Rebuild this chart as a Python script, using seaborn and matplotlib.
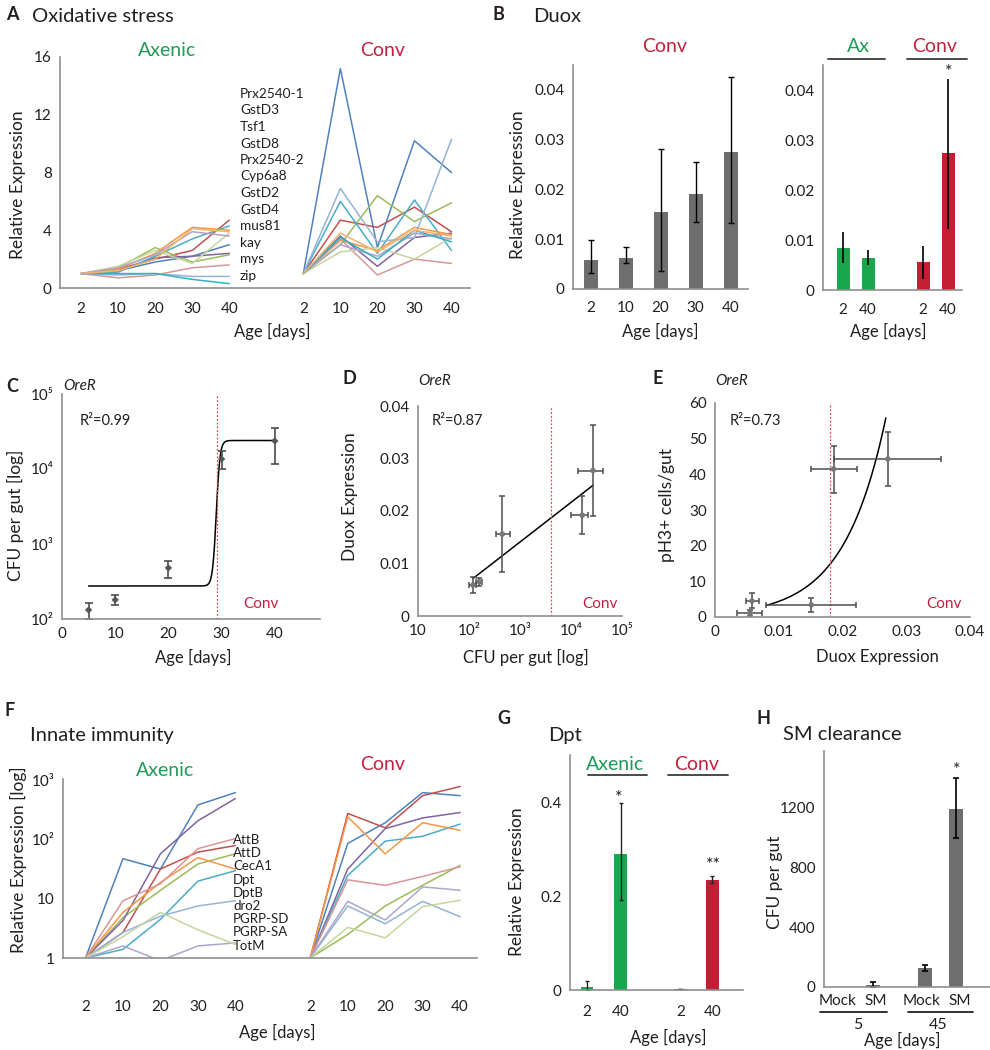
import numpy as np
import pandas as pd
import matplotlib
matplotlib.use("Agg")
import matplotlib.pyplot as plt
from matplotlib.lines import Line2D
from matplotlib.ticker import FixedLocator, NullLocator
import seaborn as sns

# ---------------- data ----------------
ages = [2, 10, 20, 30, 40]
age_labels = ["2", "10", "20", "30", "40"]

ox_genes = ["Prx2540-1", "GstD3", "Tsf1", "GstD8", "Prx2540-2", "Cyp6a8",
            "GstD2", "GstD4", "mus81", "kay", "mys", "zip"]
ox_axenic = [
    [1, 1.2, 1.8, 2.2, 3.0],
    [1, 1.3, 2.0, 2.6, 4.7],
    [1, 1.4, 2.8, 1.8, 2.3],
    [1, 1.2, 2.1, 2.2, 2.4],
    [1, 1.1, 2.2, 3.4, 4.3],
    [1, 1.3, 2.4, 4.2, 4.0],
    [1, 0.9, 1.0, 0.8, 0.8],
    [1, 0.7, 0.9, 1.4, 1.6],
    [1, 1.5, 2.6, 1.7, 3.8],
    [1, 1.4, 2.3, 3.9, 3.6],
    [1, 1.0, 1.0, 0.6, 0.3],
    [1, 1.2, 2.0, 4.1, 3.9],
]
ox_conv = [
    [1, 15.2, 2.8, 10.2, 8.0],
    [1, 4.7, 4.2, 5.6, 3.9],
    [1, 3.0, 6.4, 4.6, 5.9],
    [1, 3.6, 1.5, 3.5, 3.8],
    [1, 6.0, 2.4, 6.1, 2.6],
    [1, 3.3, 2.6, 4.2, 3.7],
    [1, 6.9, 3.2, 3.5, 10.3],
    [1, 3.4, 0.9, 2.0, 1.7],
    [1, 2.5, 2.8, 2.0, 3.5],
    [1, 3.0, 2.2, 3.8, 3.4],
    [1, 3.5, 2.0, 4.0, 3.2],
    [1, 3.8, 2.5, 4.0, 3.6],
]

duox_ages = ["2", "10", "20", "30", "40"]
duox_conv = [0.0059, 0.0062, 0.0155, 0.0191, 0.0275]
duox_conv_lo = [0.0033, 0.0052, 0.0037, 0.0134, 0.0132]
duox_conv_hi = [0.0098, 0.0084, 0.0282, 0.0256, 0.0425]

duox_cmp_groups = ["Ax", "Ax", "Conv", "Conv"]
duox_cmp_ages = ["2", "40", "2", "40"]
duox_cmp = [0.0085, 0.0065, 0.0057, 0.0274]
duox_cmp_lo = [0.0055, 0.0050, 0.0023, 0.0122]
duox_cmp_hi = [0.0116, 0.0080, 0.0088, 0.0423]

c_age = [5, 10, 20, 30, 40]
c_cfu = [132, 180, 480, 13600, 23700]
c_cfu_lo = [100, 155, 350, 10000, 11600]
c_cfu_hi = [165, 209, 595, 17400, 35000]
c_fit_low_log, c_fit_high_log, c_fit_mid, c_fit_scale = 2.44, 4.38, 29.0, 0.35
c_threshold = 29.2
c_r2 = "R²=0.99"

d_cfu = [120, 160, 450, 16600, 27000]
d_cfu_lo = [100, 140, 340, 10000, 13800]
d_cfu_hi = [140, 180, 630, 21400, 42700]
d_duox = [0.0059, 0.0065, 0.0156, 0.0192, 0.0277]
d_duox_lo = [0.0043, 0.0057, 0.0084, 0.0156, 0.0190]
d_duox_hi = [0.0075, 0.0072, 0.0229, 0.0229, 0.0364]
d_threshold = 4000
d_r2 = "R²=0.87"

e_duox = [0.0055, 0.0058, 0.0151, 0.0186, 0.0271]
e_duox_lo = [0.0035, 0.0049, 0.0080, 0.0151, 0.0186]
e_duox_hi = [0.0074, 0.0069, 0.0221, 0.0223, 0.0355]
e_ph3 = [1.1, 4.5, 3.4, 41.5, 44.3]
e_ph3_lo = [0.2, 2.5, 1.5, 34.7, 36.7]
e_ph3_hi = [2.0, 6.7, 5.3, 47.9, 51.8]
e_fit_a, e_fit_k, e_fit_x0, e_fit_x1 = 0.96, 151.6, 0.008, 0.0268
e_threshold = 0.0181
e_r2 = "R²=0.73"

imm_labels = ["AttB", "AttD", "CecA1", "Dpt", "DptB", "dro2", "PGRP-SD", "PGRP-SA", "TotM"]
imm_series = ["AttB", "AttD", "CecA1", "Dpt", "DptB", "dro2", "PGRP-SD", "PGRP-SA", "TotM", "other"]
imm_axenic = [
    [1, 48, 32, 390, 630],
    [1, 2.7, 32, 62, 80],
    [1, 4.8, 14, 39, 58],
    [1, 4.3, 58, 210, 500],
    [1, 1.4, 4.5, 20, 30],
    [1, 5.9, 19, 50, 32],
    [1, 2.7, 5.1, 7.6, 9.3],
    [1, 9.3, 18, 71, 105],
    [1, 1.6, 0.9, 1.6, 1.8],
    [1, 2.3, 5.9, 3.0, 1.7],
]
imm_conv = [
    [1, 87, 195, 630, 560],
    [1, 280, 160, 560, 800],
    [1, 2.5, 7.6, 17, 37],
    [1, 32, 155, 235, 290],
    [1, 25, 95, 115, 185],
    [1, 245, 58, 195, 145],
    [1, 7.6, 3.8, 9.1, 5.0],
    [1, 21, 17, 24, 35],
    [1, 9.1, 4.4, 16, 14],
    [1, 3.3, 2.2, 7.4, 9.5],
]

dpt_groups = ["Axenic", "Axenic", "Conv", "Conv"]
dpt_ages = ["2", "40", "2", "40"]
dpt_vals = [0.007, 0.29, 0.002, 0.234]
dpt_lo = [0.0, 0.191, 0.002, 0.227]
dpt_hi = [0.019, 0.398, 0.002, 0.243]

sm_treat = ["Mock", "SM", "Mock", "SM"]
sm_age = ["5", "45"]
sm_vals = [0, 16, 127, 1193]
sm_lo = [0, 2, 110, 1000]
sm_hi = [0, 31, 145, 1400]

# ---------------- style ----------------
sns.set_theme(style="white")
plt.rcParams["font.family"] = ["Lato", "DejaVu Sans"]
FAM = ["Lato", "DejaVu Sans"]

W, H = 990, 1050
SPINE = "#8f8f8f"
TXT = "#231f20"
GREEN_T = "#1f9a58"
RED_T = "#c2203f"
BAR_GREEN = "#1aa64c"
BAR_RED = "#c41e34"
BAR_GRAY = "#6e6e6e"
ERR_GRAY = "#4d4d4d"
DOT_RED = "#e0454f"
TICK_FS = 11

ox_colors = ["#4F81BD", "#C0504D", "#9BBB59", "#8064A2", "#4BACC6", "#F79646",
             "#95B3D7", "#D99694", "#C3D69B", "#B3A2C7", "#31B0C8", "#F2B36B"]
imm_colors = ["#4F81BD", "#C0504D", "#9BBB59", "#8064A2", "#4BACC6", "#F79646",
              "#95B3D7", "#D99694", "#ABA7CB", "#C3D69B"]

fig = plt.figure(figsize=(9.9, 10.5), dpi=100)


def add_ax(l, t, r, b):
    ax = fig.add_axes([l / W, 1 - b / H, (r - l) / W, (b - t) / H])
    for s in ["top", "right"]:
        ax.spines[s].set_visible(False)
    for s in ["left", "bottom"]:
        ax.spines[s].set_color(SPINE)
        ax.spines[s].set_linewidth(1.2)
    ax.tick_params(which="both", colors=SPINE, labelcolor=TXT, labelsize=TICK_FS,
                   direction="out", width=1)
    ax.tick_params(which="major", length=3, pad=3)
    ax.tick_params(which="minor", length=2.5)
    ax.set_facecolor("none")
    return ax


def txt(x, y, s, **kw):
    kw.setdefault("va", "center")
    kw.setdefault("color", TXT)
    kw.setdefault("family", FAM)
    fig.text(x / W, 1 - y / H, s, **kw)


def hline(x1, x2, y, color="#3a3a3a", lw=1.3):
    fig.add_artist(Line2D([x1 / W, x2 / W], [1 - y / H, 1 - y / H], color=color, lw=lw))


def cat_ticks(ax, positions, labels, minor, pad):
    ax.xaxis.set_major_locator(FixedLocator(positions))
    ax.set_xticklabels(labels)
    ax.xaxis.set_minor_locator(FixedLocator(minor))
    ax.tick_params(axis="x", which="major", length=0, pad=pad)


def long_lines(series, colors, a_vals, c_vals, offset=6):
    rows = []
    for gi, g in enumerate(series):
        for grp, vals, off in (("Axenic", a_vals[gi], 0), ("Conv", c_vals[gi], offset)):
            for j, v in enumerate(vals):
                rows.append(dict(gene=g, group=grp, pos=j + off, value=v))
    return pd.DataFrame(rows), dict(zip(series, colors))


# ================= A =================
axA = add_ax(60, 57, 470, 288)
dfA, palA = long_lines(ox_genes, ox_colors, ox_axenic, ox_conv)
sns.lineplot(data=dfA, x="pos", y="value", hue="gene", units="group", estimator=None,
             palette=palA, legend=False, lw=1.1, ax=axA, sort=False)
axA.set_xlim(-0.57, 10.5)
axA.set_ylim(0, 16)
axA.yaxis.set_major_locator(FixedLocator([0, 4, 8, 12, 16]))
axA.yaxis.set_minor_locator(FixedLocator([2, 6, 10, 14]))
cat_ticks(axA, list(range(5)) + list(range(6, 11)), age_labels * 2,
          np.arange(0.5, 10.5, 1.0), 10)
axA.set_xlabel("")
axA.set_ylabel("")
txt(6, 14, "A", fontsize=13, fontweight="bold")
txt(32, 16, "Oxidative stress", fontsize=14.5)
txt(167, 50, "Axenic", fontsize=14, color=GREEN_T, ha="center")
txt(383, 50, "Conv", fontsize=14, color=RED_T, ha="center")
for i, g in enumerate(ox_genes):
    txt(240, 94 + 16.5 * i, g, fontsize=9.8)
txt(18, 185, "Relative Expression", fontsize=12.5, rotation=90, ha="center")
txt(272, 331, "Age [days]", fontsize=12, ha="center")

# ================= B (left) =================
axB1 = add_ax(573, 65, 748, 289)
sns.barplot(x=duox_ages, y=duox_conv, color=BAR_GRAY, width=0.4, errorbar=None,
            linewidth=0, saturation=1, ax=axB1)
axB1.errorbar(range(5), duox_conv,
              yerr=[np.subtract(duox_conv, duox_conv_lo), np.subtract(duox_conv_hi, duox_conv)],
              fmt="none", ecolor="black", elinewidth=1.0, capsize=2, capthick=1)
axB1.set_xlim(-0.5, 4.5)
axB1.set_ylim(0, 0.045)
axB1.yaxis.set_major_locator(FixedLocator([0, 0.01, 0.02, 0.03, 0.04]))
axB1.set_yticklabels(["0", "0.01", "0.02", "0.03", "0.04"])
axB1.yaxis.set_minor_locator(FixedLocator([0.005, 0.015, 0.025, 0.035]))
cat_ticks(axB1, range(5), duox_ages, np.arange(0.5, 4.6, 1.0), 9)
axB1.tick_params(axis="x", which="minor", length=3)
axB1.set_xlabel("")
axB1.set_ylabel("")
txt(492, 14, "B", fontsize=13, fontweight="bold")
txt(533, 16, "Duox", fontsize=14.5)
txt(665, 47, "Conv", fontsize=14, color=RED_T, ha="center")
txt(518, 185, "Relative Expression", fontsize=12.5, rotation=90, ha="center")
txt(660, 331, "Age [days]", fontsize=12, ha="center")

# ================= B (right) =================
B2_SLOTS = [0, 1, 3.2, 4.2]
axB2 = add_ax(823, 65, 962, 290)
dfB2 = pd.DataFrame(dict(pos=B2_SLOTS, val=duox_cmp, grp=duox_cmp_groups))
sns.barplot(data=dfB2, x="pos", y="val", hue="grp", palette={"Ax": BAR_GREEN, "Conv": BAR_RED},
            native_scale=True, dodge=False, width=0.52, errorbar=None, legend=False,
            linewidth=0, saturation=1, ax=axB2)
axB2.errorbar(B2_SLOTS, duox_cmp,
              yerr=[np.subtract(duox_cmp, duox_cmp_lo), np.subtract(duox_cmp_hi, duox_cmp)],
              fmt="none", ecolor="black", elinewidth=1.2, capsize=0)
axB2.set_xlim(-0.8, 4.76)
axB2.set_ylim(0, 0.045)
axB2.yaxis.set_major_locator(FixedLocator([0, 0.01, 0.02, 0.03, 0.04]))
axB2.set_yticklabels(["0", "0.01", "0.02", "0.03", "0.04"])
axB2.yaxis.set_minor_locator(FixedLocator([0.005, 0.015, 0.025, 0.035]))
cat_ticks(axB2, B2_SLOTS, duox_cmp_ages, [], 9)
axB2.set_xlabel("")
axB2.set_ylabel("")
txt(858, 47, "Ax", fontsize=14, color=GREEN_T, ha="center")
txt(935, 47, "Conv", fontsize=14, color=RED_T, ha="center")
hline(828, 885, 59)
hline(907, 967, 59)
txt(949, 72, "*", fontsize=13, ha="center")
txt(888, 331, "Age [days]", fontsize=12, ha="center")

# ================= C =================
axC = add_ax(62, 394, 320, 619)
axC.set_yscale("log")
c_x = np.linspace(c_age[0], c_age[-1], 400)
c_y = 10 ** (c_fit_low_log + (c_fit_high_log - c_fit_low_log) /
             (1 + np.exp(-(c_x - c_fit_mid) / c_fit_scale)))
sns.lineplot(x=c_x, y=c_y, color="black", lw=1.1, ax=axC)
axC.axvline(c_threshold, color=DOT_RED, lw=0.9, ls=(0, (1.5, 1.5)))
axC.errorbar(c_age, c_cfu,
             yerr=[np.subtract(c_cfu, c_cfu_lo), np.subtract(c_cfu_hi, c_cfu)],
             fmt="none", ecolor=ERR_GRAY, elinewidth=1.2, capsize=3, capthick=1.2)
sns.scatterplot(x=c_age, y=c_cfu, marker="D", s=14, color="#555555", edgecolor="none",
                zorder=4, ax=axC)
axC.set_xlim(0, 48.5)
axC.set_ylim(100, 1e5)
axC.xaxis.set_major_locator(FixedLocator([0, 10, 20, 30, 40]))
axC.set_xticklabels(["0", "10", "20", "30", "40"])
axC.yaxis.set_major_locator(FixedLocator([1e2, 1e3, 1e4, 1e5]))
axC.set_yticklabels(["10²", "10³", "10⁴", "10⁵"])
axC.yaxis.set_minor_locator(NullLocator())
axC.set_xlabel("")
axC.set_ylabel("")
txt(6, 386, "C", fontsize=13, fontweight="bold")
txt(63, 386, "OreR", fontsize=11, style="italic")
txt(80, 421, c_r2, fontsize=10.5)
txt(243, 604, "Conv", fontsize=11, color=RED_T)
txt(15, 515, "CFU per gut [log]", fontsize=12.5, rotation=90, ha="center")
txt(193, 657, "Age [days]", fontsize=12, ha="center")

# ================= D =================
axD = add_ax(418, 406, 622, 616)
axD.set_xscale("log")
d_coef = np.polyfit(np.log10(d_cfu), d_duox, 1)
d_lx = np.linspace(np.log10(d_cfu[0]), np.log10(d_cfu[-1]), 50)
sns.lineplot(x=10 ** d_lx, y=np.polyval(d_coef, d_lx), color="black", lw=1.1, ax=axD)
axD.axvline(d_threshold, color=DOT_RED, lw=0.9, ls=(0, (1.5, 1.5)))
axD.errorbar(d_cfu, d_duox,
             xerr=[np.subtract(d_cfu, d_cfu_lo), np.subtract(d_cfu_hi, d_cfu)],
             yerr=[np.subtract(d_duox, d_duox_lo), np.subtract(d_duox_hi, d_duox)],
             fmt="none", ecolor=ERR_GRAY, elinewidth=1.1, capsize=2.5, capthick=1.1)
sns.scatterplot(x=d_cfu, y=d_duox, marker="o", s=16, color="#777777", edgecolor="none",
                zorder=4, ax=axD)
axD.set_xlim(10, 1e5)
axD.set_ylim(0, 0.04)
axD.xaxis.set_major_locator(FixedLocator([10, 1e2, 1e3, 1e4, 1e5]))
axD.set_xticklabels(["10", "10²", "10³", "10⁴", "10⁵"])
axD.xaxis.set_minor_locator(NullLocator())
axD.yaxis.set_major_locator(FixedLocator([0, 0.01, 0.02, 0.03, 0.04]))
axD.set_yticklabels(["0", "0.01", "0.02", "0.03", "0.04"])
axD.yaxis.set_minor_locator(FixedLocator([0.005, 0.015, 0.025, 0.035]))
axD.set_xlabel("")
axD.set_ylabel("")
txt(343, 379, "D", fontsize=13, fontweight="bold")
txt(418, 381, "OreR", fontsize=11, style="italic")
txt(432, 421, d_r2, fontsize=10.5)
txt(582, 604, "Conv", fontsize=11, color=RED_T)
txt(350, 497, "Duox Expression", fontsize=12.5, rotation=90, ha="center")
txt(526, 657, "CFU per gut [log]", fontsize=12, ha="center")

# ================= E =================
axE = add_ax(715, 403, 970, 617)
e_x = np.linspace(e_fit_x0, e_fit_x1, 200)
sns.lineplot(x=e_x, y=e_fit_a * np.exp(e_fit_k * e_x), color="black", lw=1.1, ax=axE)
axE.axvline(e_threshold, color=DOT_RED, lw=0.9, ls=(0, (1.5, 1.5)))
axE.errorbar(e_duox, e_ph3,
             xerr=[np.subtract(e_duox, e_duox_lo), np.subtract(e_duox_hi, e_duox)],
             yerr=[np.subtract(e_ph3, e_ph3_lo), np.subtract(e_ph3_hi, e_ph3)],
             fmt="none", ecolor=ERR_GRAY, elinewidth=1.1, capsize=2.5, capthick=1.1)
sns.scatterplot(x=e_duox, y=e_ph3, marker="o", s=16, color="#777777", edgecolor="none",
                zorder=4, ax=axE)
axE.set_xlim(0, 0.04)
axE.set_ylim(0, 60)
axE.xaxis.set_major_locator(FixedLocator([0, 0.01, 0.02, 0.03, 0.04]))
axE.set_xticklabels(["0", "0.01", "0.02", "0.03", "0.04"])
axE.xaxis.set_minor_locator(FixedLocator([0.005, 0.015, 0.025, 0.035]))
axE.yaxis.set_major_locator(FixedLocator([0, 10, 20, 30, 40, 50, 60]))
axE.set_xlabel("")
axE.set_ylabel("")
txt(652, 379, "E", fontsize=13, fontweight="bold")
txt(715, 381, "OreR", fontsize=11, style="italic")
txt(730, 421, e_r2, fontsize=10.5)
txt(926, 604, "Conv", fontsize=11, color=RED_T)
txt(667, 505, "pH3+ cells/gut", fontsize=12.5, rotation=90, ha="center")
txt(877, 657, "Duox Expression", fontsize=12, ha="center")

# ================= F =================
axF = add_ax(63, 779, 477, 958)
dfF, palF = long_lines(imm_series, imm_colors, imm_axenic, imm_conv)
sns.lineplot(data=dfF, x="pos", y="value", hue="gene", units="group", estimator=None,
             palette=palF, legend=False, lw=1.1, ax=axF, sort=False)
axF.set_yscale("log")
axF.set_xlim(-0.6, 10.45)
axF.set_ylim(1, 10 ** 3.03)
axF.yaxis.set_major_locator(FixedLocator([1, 10, 100, 1000]))
axF.set_yticklabels(["1", "10", "10²", "10³"])
axF.yaxis.set_minor_locator(NullLocator())
cat_ticks(axF, list(range(5)) + list(range(6, 11)), age_labels * 2,
          np.arange(0.5, 10.5, 1.0), 30)
axF.set_xlabel("")
axF.set_ylabel("")
txt(5, 711, "F", fontsize=13, fontweight="bold")
txt(30, 735, "Innate immunity", fontsize=14.5)
txt(165, 770, "Axenic", fontsize=14, color=GREEN_T, ha="center")
txt(383, 764, "Conv", fontsize=14, color=RED_T, ha="center")
for i, g in enumerate(imm_labels):
    txt(233, 840 + 13.2 * i, g, fontsize=9.5)
txt(18, 860, "Relative Expression [log]", fontsize=12.5, rotation=90, ha="center")
txt(277, 1032, "Age [days]", fontsize=12, ha="center")

# ================= G =================
G_SLOTS = [0, 1, 2.75, 3.7]
axG = add_ax(570, 755, 743, 990)
dfG = pd.DataFrame(dict(pos=G_SLOTS, val=dpt_vals, grp=dpt_groups))
sns.barplot(data=dfG, x="pos", y="val", hue="grp", palette={"Axenic": BAR_GREEN, "Conv": BAR_RED},
            native_scale=True, dodge=False, width=0.4, errorbar=None, legend=False,
            linewidth=0, saturation=1, ax=axG)
axG.errorbar(G_SLOTS, dpt_vals,
             yerr=[np.subtract(dpt_vals, dpt_lo), np.subtract(dpt_hi, dpt_vals)],
             fmt="none", ecolor="#222222", elinewidth=1.0, capsize=1.5, capthick=1)
axG.set_xlim(-0.5, 4.6)
axG.set_ylim(0, 0.5)
axG.yaxis.set_major_locator(FixedLocator([0, 0.2, 0.4]))
axG.set_yticklabels(["0", "0.2", "0.4"])
axG.yaxis.set_minor_locator(FixedLocator([0.1, 0.3]))
cat_ticks(axG, G_SLOTS, dpt_ages, [], 11)
axG.set_xlabel("")
axG.set_ylabel("")
txt(497, 718, "G", fontsize=13, fontweight="bold")
txt(548, 735, "Dpt", fontsize=14.5)
txt(615, 765, "Axenic", fontsize=14, color=GREEN_T, ha="center")
txt(697, 765, "Conv", fontsize=14, color=RED_T, ha="center")
hline(588, 647, 775)
hline(668, 728, 775)
txt(619, 798, "*", fontsize=13, ha="center")
txt(713, 865, "**", fontsize=13, ha="center")
txt(517, 882, "Relative Expression", fontsize=12.5, rotation=90, ha="center")
txt(668, 1037, "Age [days]", fontsize=12, ha="center")

# ================= H =================
H_SLOTS = [0, 1, 2.68, 3.68]
H_LABEL_X = [838, 876, 922, 960]
axH = add_ax(824, 751, 990, 987)
sns.barplot(x=H_SLOTS, y=sm_vals, color=BAR_GRAY, native_scale=True, width=0.45,
            errorbar=None, linewidth=0, saturation=1, ax=axH)
axH.errorbar(H_SLOTS[1:], sm_vals[1:],
             yerr=[np.subtract(sm_vals, sm_lo)[1:], np.subtract(sm_hi, sm_vals)[1:]],
             fmt="none", ecolor="black", elinewidth=1.2, capsize=2, capthick=1.2)
axH.set_xlim(-0.58, 4.77)
axH.set_ylim(0, 1580)
axH.yaxis.set_major_locator(FixedLocator([0, 400, 800, 1200]))
axH.yaxis.set_minor_locator(FixedLocator([200, 600, 1000, 1400]))
axH.xaxis.set_major_locator(FixedLocator(H_SLOTS))
axH.set_xticklabels([""] * 4)
axH.tick_params(axis="x", which="major", length=0)
axH.set_xlabel("")
axH.set_ylabel("")
for xl, lab in zip(H_LABEL_X, sm_treat):
    txt(xl, 1001, lab, fontsize=11, ha="center")
txt(756, 718, "H", fontsize=13, fontweight="bold")
txt(783, 735, "SM clearance", fontsize=14.5)
txt(957, 770, "*", fontsize=13, ha="center")
hline(820, 887, 1012, color="#222222")
hline(908, 973, 1012, color="#222222")
txt(858, 1025, sm_age[0], fontsize=11.5, ha="center")
txt(938, 1025, sm_age[1], fontsize=11.5, ha="center")
txt(775, 882, "CFU per gut", fontsize=12.5, rotation=90, ha="center")
txt(902, 1040, "Age [days]", fontsize=12, ha="center")

fig.savefig("out.png", dpi=100)
